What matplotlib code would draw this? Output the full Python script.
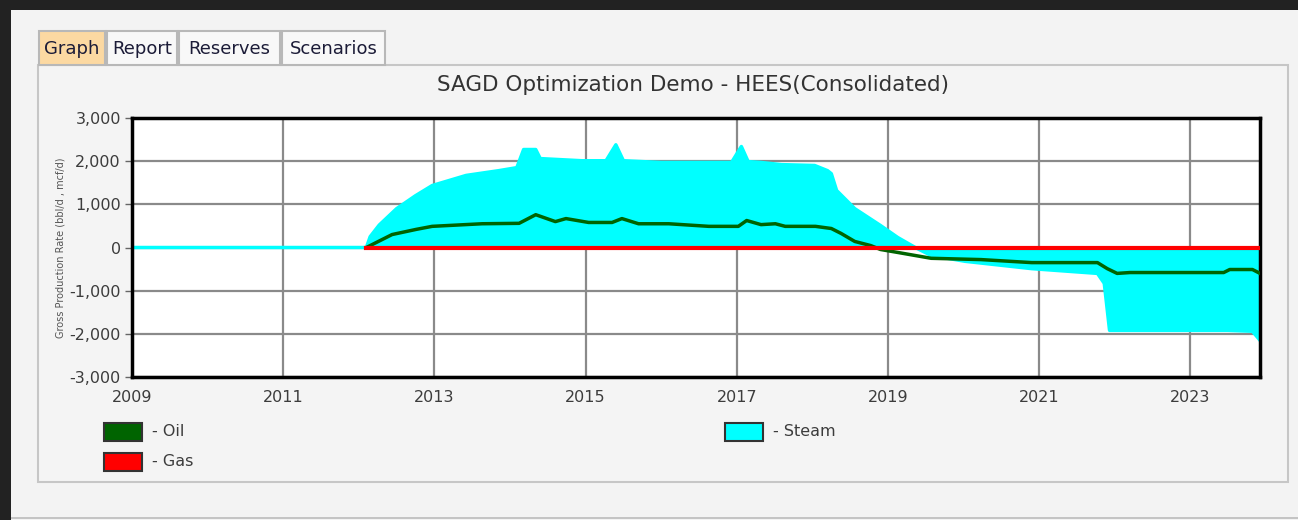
import matplotlib.pyplot as plt
import numpy as np
from matplotlib.patches import Rectangle

# data (decimal years, bbl/d or mcf/d)
steam_t = [2009.0, 2012.1, 2012.15, 2012.27, 2012.5, 2012.75, 2012.97, 2013.42, 2013.85,
           2014.09, 2014.18, 2014.34, 2014.4, 2014.95, 2015.27, 2015.4, 2015.5, 2016.0,
           2016.93, 2017.06, 2017.15, 2017.32, 2017.59, 2018.03, 2018.2, 2018.25, 2018.32,
           2018.56, 2018.9, 2019.13, 2019.36, 2019.57, 2020.02, 2020.9, 2021.77, 2021.86,
           2021.93, 2023.49, 2023.82, 2023.92]
steam_v = [0, 0, 250, 520, 900, 1200, 1435, 1670, 1780,
           1850, 2270, 2270, 2060, 2010, 2010, 2380, 2010, 1970,
           1970, 2340, 1990, 1970, 1920, 1900, 1780, 1710, 1320,
           900, 510, 230, 0, -185, -320, -490, -600, -830,
           -1920, -1920, -1940, -2150]

oil_t = [2012.1, 2012.23, 2012.44, 2012.76, 2012.97, 2013.63, 2014.12, 2014.34, 2014.6,
         2014.74, 2015.04, 2015.35, 2015.48, 2015.7, 2016.1, 2016.63, 2017.02, 2017.13,
         2017.32, 2017.51, 2017.64, 2018.04, 2018.25, 2018.38, 2018.56, 2018.77, 2018.9,
         2019.13, 2019.57, 2020.23, 2020.9, 2021.77, 2021.9, 2022.03, 2022.2, 2023.44,
         2023.52, 2023.82, 2023.92]
oil_v = [0, 115, 300, 420, 490, 550, 560, 760, 600,
         670, 580, 580, 670, 550, 550, 490, 490, 625,
         530, 550, 490, 490, 440, 325, 140, 45, -46,
         -115, -250, -280, -350, -350, -490, -600, -580, -580,
         -510, -510, -600]

gas_t = [2012.1, 2023.92]
gas_v = [0, 0]

year_ticks = [2009, 2011, 2013, 2015, 2017, 2019, 2021, 2023]
rate_ticks = [-3000, -2000, -1000, 0, 1000, 2000, 3000]
tabs = ['Graph', 'Report', 'Reserves', 'Scenarios']

W, H = 1298, 520
fig = plt.figure(figsize=(W / 100, H / 100), dpi=100)
fig.patch.set_facecolor('#f3f3f3')


def box(x0, y0, x1, y1, **kw):
    # rectangle given in pixel coords (origin top-left), kept under the axes
    r = Rectangle((x0 / W, 1 - y1 / H), (x1 - x0) / W, (y1 - y0) / H,
                  transform=fig.transFigure, zorder=-1, **kw)
    fig.patches.append(r)
    return r


def label(x, y, s, **kw):
    fig.text(x / W, 1 - y / H, s, **kw)


# window frame
box(0, 0, W, 10, facecolor='#222222', edgecolor='none')
box(0, 0, 11, H, facecolor='#222222', edgecolor='none')
box(11, 517, W, 519, facecolor='#c4c4c4', edgecolor='none')
box(38, 65, 1288, 482, facecolor='#f4f4f4', edgecolor='#c6c6c6', linewidth=1.5)

# tabs
tab_x = [(39, 105), (107, 177), (179, 280), (282, 385)]
for name, (x0, x1) in zip(tabs, tab_x):
    fc = '#fcd9a2' if name == 'Graph' else '#f8f8f8'
    box(x0, 31, x1, 65, facecolor=fc, edgecolor='#b8b8b8', linewidth=1.5)
    label((x0 + x1) / 2, 49, name, ha='center', va='center', fontsize=13,
          color='#1c1c38', family='DejaVu Sans')

label(693, 85, 'SAGD Optimization Demo - HEES(Consolidated)', ha='center', va='center',
      fontsize=15.5, color='#333333')

ax = fig.add_axes([132 / W, 1 - 377 / H, (1260 - 132) / W, (377 - 118) / H])
ax.set_facecolor('white')

ax.fill_between(steam_t, 0, steam_v, color='#00ffff', linewidth=0, zorder=2)
ax.plot(steam_t, steam_v, color='#00ffff', lw=2.5, zorder=2)
ax.plot(oil_t, oil_v, color='#006400', lw=2.5, zorder=3)
ax.plot(gas_t, gas_v, color='#ff0000', lw=3, zorder=4)

ax.set_xlim(2009, 2023.92)
ax.set_ylim(-3000, 3000)
ax.set_xticks(year_ticks)
ax.set_xticklabels([str(y) for y in year_ticks])
ax.set_yticks(rate_ticks)
ax.set_yticklabels([f'{v:,}' for v in rate_ticks])
ax.grid(True, color='#8a8a8a', lw=1.6)
ax.set_axisbelow(True)
ax.tick_params(axis='x', length=0, pad=9, labelsize=11.5, labelcolor='#3c3c3c')
ax.tick_params(axis='y', length=5, width=1, color='#666666', pad=3,
               labelsize=11.5, labelcolor='#3c3c3c')
for s in ax.spines.values():
    s.set_linewidth(2.5)
    s.set_color('black')
ax.set_ylabel('Gross Production Rate (bbl/d , mcf/d)', fontsize=7, color='#555555',
              labelpad=3)

# legend
leg = [('Oil', '#006400', 104, 423), ('Gas', '#ff0000', 104, 453), ('Steam', '#00ffff', 725, 423)]
for name, col, x, y in leg:
    box(x, y, x + 38, y + 18, facecolor=col, edgecolor='#333333', linewidth=1.5)
    label(x + 48, y + 9, '- ' + name, ha='left', va='center', fontsize=11.5, color='#3c3c3c')

fig.savefig('out.png', dpi=100, facecolor=fig.get_facecolor())
